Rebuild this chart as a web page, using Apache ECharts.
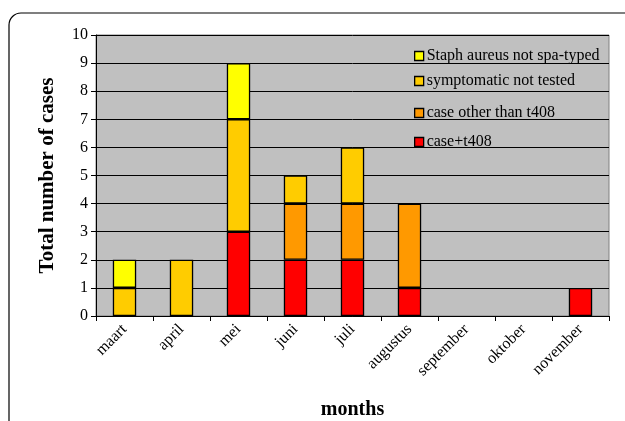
<!DOCTYPE html>
<html><head><meta charset="utf-8">
<script src="https://cdn.jsdelivr.net/npm/echarts@6/dist/echarts.min.js"></script>
<style>html,body{margin:0;padding:0;background:#fff}#c{width:625px;height:421px}</style>
</head><body><div id="c"></div>
<script>
var months = ['maart','april','mei','juni','juli','augustus','september','oktober','november'];
var caseT408 = [0,0,3,2,2,1,0,0,1];
var caseOther = [0,0,0,2,2,3,0,0,0];
var symptomatic = [1,2,4,1,2,0,0,0,0];
var staph = [1,0,2,0,0,0,0,0,0];
var yTicks = [0,1,2,3,4,5,6,7,8,9,10];

var names = ['case+t408','case other than t408','symptomatic not tested','Staph aureus not spa-typed'];
var colors = ['#FF0000','#FF9900','#FFCC00','#FFFF00'];
var values = [caseT408, caseOther, symptomatic, staph];
var font = '"Liberation Serif","Times New Roman",serif';

var series = names.map(function(n,i){
  return {
    name: n, type: 'bar', stack: 'a', barWidth: '41%',
    itemStyle: {color: colors[i], borderColor: '#000', borderWidth: 1.3},
    data: values[i].map(function(v){ return v === 0 ? '-' : v; })
  };
});
var legendTops = [43, 68, 100, 129];
var legendOrder = [3,2,1,0];
var legends = legendOrder.map(function(idx,k){
  return {
    data: [{name: names[idx], itemStyle:{color: colors[idx], borderColor:'#000', borderWidth:1.3}}],
    left: 409, top: legendTops[k], icon: 'rect', itemWidth: 9, itemHeight: 9, itemGap: 2,
    textStyle: {fontFamily: font, fontSize: 16, color: '#000', padding:[0,0,0,-2]},
    selectedMode: false
  };
});

var chart = echarts.init(document.getElementById('c'));
chart.setOption({
  animation: false,
  backgroundColor: '#fff',
  graphic: [{type:'rect', shape:{x:9, y:13, width:700, height:500, r:12}, style:{fill:'none', stroke:'#000', lineWidth:1.2}, z:-1}],
  grid: {left: 96, right: 16, top: 35, bottom: 105, containLabel: false, outerBoundsMode: 'none',
    show: true, backgroundColor: '#C0C0C0', borderColor: '#808080', borderWidth: 1},
  legend: legends,
  xAxis: {
    type: 'category', data: months, name: 'months', nameLocation: 'middle', nameGap: 84,
    nameTextStyle: {fontFamily: font, fontSize: 20, fontWeight: 'bold', color: '#000'},
    axisLine: {lineStyle: {color: '#000', width: 1}},
    axisTick: {show: true, lineStyle: {color: '#000'}, length: 5, alignWithLabel: false},
    axisLabel: {rotate: 45, fontFamily: font, fontSize: 16, color: '#000', margin: 11, interval: 0}
  },
  yAxis: {
    type: 'value', min: 0, max: 10, interval: 1,
    name: 'Total number of cases', nameLocation: 'middle', nameGap: 38,
    nameTextStyle: {fontFamily: font, fontSize: 21, fontWeight: 'bold', color: '#000'},
    axisLine: {show: true, lineStyle: {color: '#000', width: 1}},
    axisTick: {show: true, lineStyle: {color: '#000'}, length: 5},
    axisLabel: {fontFamily: font, fontSize: 16, color: '#000', margin: 8,
      formatter: function(v){ return yTicks.indexOf(v) >= 0 ? String(v) : ''; }},
    splitLine: {show: true, lineStyle: {color: '#000', width: 1}}
  },
  series: series
});
</script></body></html>
